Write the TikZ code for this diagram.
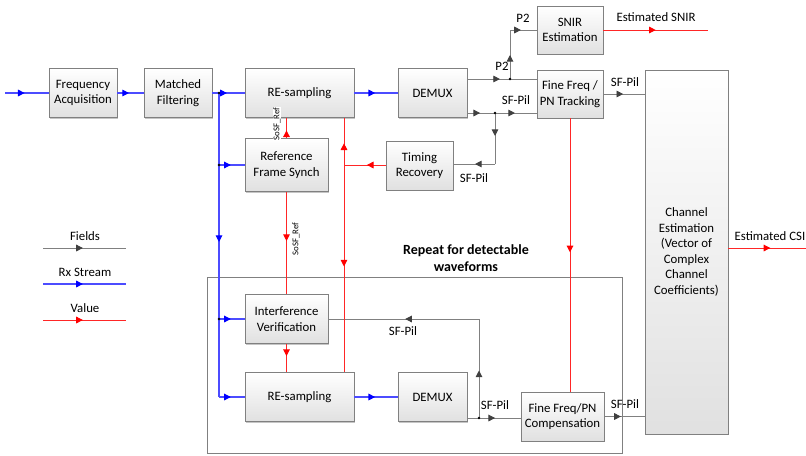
\documentclass[tikz,border=0pt]{standalone}
\usepackage{fontspec}
\setmainfont{Carlito}
\usetikzlibrary{arrows.meta, decorations.markings, shadows}

\def\colpunta{black}
\tikzset{
    blocco/.style = {draw = black!50, line width = 0.6pt, top color = white, bottom color = black!12, align = center, inner sep = 1pt,
        drop shadow = {shadow xshift = 1pt, shadow yshift = -1pt, fill = black!45, opacity = 0.5}},
    campo/.style = {draw = black!50, line width = 0.7pt, /utils/exec = {\def\colpunta{black!75}}},
    flusso/.style = {draw = blue!70, line width = 0.8pt, /utils/exec = {\def\colpunta{blue}}},
    valore/.style = {draw = red!85, line width = 0.7pt, /utils/exec = {\def\colpunta{red}}},
    freccia/.style = {postaction = decorate, decoration = {markings, mark = at position #1 with {\arrow{Triangle[length = 5pt, width = 5pt, color = \colpunta]}}}},
    etich/.style = {inner sep = 0pt},
}

\begin{document}
\begin{tikzpicture}[x = 0.75pt, y = -0.75pt, font = \fontsize{9.6}{11.6}\selectfont]
    \useasboundingbox (0,0) rectangle (806,455);
    % Riquadro ripetizione
    \draw[black!50, line width = 0.6pt] (207,277) rectangle (622,453);
    \node[font = \fontsize{10.5}{12.5}\selectfont\bfseries, align = center] (rip) at (466,258) {Repeat for detectable\\waveforms};
    % Blocchi
    \node[blocco, minimum width = 51pt, minimum height = 36.75pt] (freq) at (83,93) {Frequency\\Acquisition};
    \node[blocco, minimum width = 51pt, minimum height = 36.75pt] (match) at (178,93) {Matched\\Filtering};
    \node[blocco, minimum width = 81.75pt, minimum height = 36.75pt] (resampA) at (299.5,93) {RE-sampling};
    \node[blocco, minimum width = 51.75pt, minimum height = 36.75pt] (demuxA) at (432.5,93) {DEMUX};
    \node[blocco, minimum width = 49.5pt, minimum height = 36pt] (snir) at (570,30) {SNIR\\Estimation};
    \node[blocco, minimum width = 49.5pt, minimum height = 36pt] (fineA) at (570,94) {Fine Freq /\\PN Tracking};
    \node[blocco, minimum width = 62.25pt, minimum height = 273pt] (chan) at (686.5,252) {Channel\\Estimation\\(Vector of\\Complex\\Channel\\Coefficients)};
    \node[blocco, minimum width = 50.25pt, minimum height = 36.75pt] (timing) at (419.5,165.5) {Timing\\Recovery};
    \node[blocco, minimum width = 62.25pt, minimum height = 39.75pt] (rfs) at (286.5,165) {Reference\\Frame Synch};
    \node[blocco, minimum width = 62.25pt, minimum height = 36.75pt] (interf) at (286.5,319) {Interference\\Verification};
    \node[blocco, minimum width = 81.75pt, minimum height = 36.75pt] (resampB) at (299.5,397) {RE-sampling};
    \node[blocco, minimum width = 51.75pt, minimum height = 36.75pt] (demuxB) at (432.5,397) {DEMUX};
    \node[blocco, minimum width = 62.25pt, minimum height = 36.75pt] (fineB) at (562.5,416.5) {Fine Freq/PN\\Compensation};
    % Punti di giunzione
    \coordinate (ingresso) at (5,93);
    \coordinate (ja) at (219,93);
    \coordinate (jb) at (219,165);
    \coordinate (jc) at (219,319);
    \coordinate (jd) at (219,397);
    \coordinate (jp) at (510,79);
    \coordinate (jq) at (510,30);
    \coordinate (js) at (495,113);
    \coordinate (jt) at (495,164);
    \coordinate (jr) at (344,165);
    \coordinate (ji) at (479,418);
    \coordinate (jk) at (479,319);
    \coordinate (snirout) at (708,30);
    \coordinate (csiout) at (806,248);
    % Rx stream
    \draw[flusso, freccia = 0.45] (ingresso) -- (freq);
    \draw[flusso, freccia = 0.44] (freq) -- (match);
    \draw[flusso, freccia = 0.45] (match) -- (resampA);
    \draw[flusso, freccia = 0.48] (resampA) -- (demuxA);
    \draw[flusso, freccia = 0.49] (ja) -- (jd);
    \draw[flusso, freccia = 0.46] (jd) -- (resampB);
    \draw[flusso, freccia = 0.46] (jb) -- (rfs);
    \draw[flusso, freccia = 0.46] (jc) -- (interf);
    \draw[flusso, freccia = 0.48] (resampB) -- (demuxB);
    % Campi
    \draw[campo, freccia = 0.47] (demuxA.east |- jp) -- (fineA.west |- jp);
    \draw[campo, freccia = 0.49] (jp) -- (jq);
    \draw[campo, freccia = 0.41] (jq) -- (snir);
    \draw[campo, freccia = 0.46] (demuxA.east |- js) -- (js);
    \draw[campo, freccia = 0.48] (js) -- (fineA.west |- js);
    \draw[campo, freccia = 0.45] (js) -- (jt);
    \draw[campo, freccia = 0.48] (jt) -- (timing.east |- jt);
    \draw[campo, freccia = 0.48] (fineA) -- (chan.west |- fineA);
    \draw[campo, freccia = 0.48] (ji) -- (jk);
    \draw[campo, freccia = 0.49] (jk) -- (interf.east |- jk);
    \draw[campo, freccia = 0.52] (demuxB.east |- ji) -- (fineB.west |- ji);
    \draw[campo, freccia = 0.41] (fineB) -- (chan.west |- fineB);
    % Valori
    \draw[valore, freccia = 0.5] (snir) -- (snirout);
    \draw[valore, freccia = 0.54] (chan.east |- csiout) -- (csiout);
    \draw[valore, freccia = 0.38] (rfs.north) -- (rfs.north |- resampA.south);
    \draw[valore, freccia = 0.48] (rfs) -- (interf);
    \draw[valore, freccia = 0.43] (interf) -- (interf |- resampB.north);
    \draw[valore, freccia = 0.45] (timing.west |- jr) -- (jr);
    \draw[valore, freccia = 0.46] (jr) -- (jr |- resampA.south);
    \draw[valore, freccia = 0.49] (jr) -- (jr |- resampB.north);
    \draw[valore, freccia = 0.49] (fineA) -- (fineA |- fineB.north);
    \foreach \p in {ja,jb,jc,jp,js,ji} {
        \fill (\p) circle (1pt);
    };
    % Etichette
    \node[etich] (lpa) at (502,66) {P2};
    \node[etich] (lpb) at (523,18) {P2};
    \node[etich] (lsa) at (516,100) {SF-Pil};
    \node[etich] (lsb) at (474,178) {SF-Pil};
    \node[etich] (lsc) at (625,82) {SF-Pil};
    \node[etich] (lsd) at (403,331) {SF-Pil};
    \node[etich] (lse) at (495,405) {SF-Pil};
    \node[etich] (lsf) at (625,404) {SF-Pil};
    \node[etich] (lsnir) at (656,17) {Estimated SNIR};
    \node[etich] (lcsi) at (770,236) {Estimated CSI};
    \node[etich, rotate = 90, fill = white, inner sep = 0.5pt, font = \fontsize{6.6}{7}\selectfont] (lrefa) at (277,124) {SoSF\_Ref};
    \node[etich, rotate = 90, font = \fontsize{6.6}{7}\selectfont] (lrefb) at (296,239) {SoSF\_Ref};
    % Legenda
    \foreach \st/\txt [count = \i] in {campo/Fields, flusso/Rx Stream, valore/Value} {
        \node[etich] (leg\i) at (85,{236+36*(\i-1)}) {\txt};
        \draw[\st, freccia = 0.48] (43,{248+36*(\i-1)}) -- (126,{248+36*(\i-1)});
    };
\end{tikzpicture}
\end{document}
